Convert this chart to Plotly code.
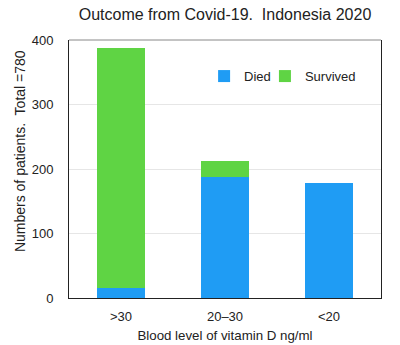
import plotly.graph_objects as go

# Vitamin D groups and patient counts
categories = [">30", "20–30", "<20"]
died = [16, 187, 179]
survived = [372, 26, 0]

BLUE = "#1F9CF4"
GREEN = "#5FD444"
FONT = "Liberation Sans, Arial, sans-serif"

fig = go.Figure()
fig.add_trace(go.Bar(name="Died", x=categories, y=died, marker_color=BLUE,
                     marker_line_width=0, width=0.46, legend="legend", showlegend=True))
fig.add_trace(go.Bar(name="Survived", x=categories, y=survived, marker_color=GREEN,
                     marker_line_width=0, width=0.46, legend="legend2", showlegend=True))

legend_style = dict(orientation="h", y=0.86, xanchor="left", yanchor="middle",
                    bgcolor="rgba(0,0,0,0)", font=dict(size=13), itemwidth=30)

fig.update_layout(
    barmode="stack",
    showlegend=True,
    width=400, height=345,
    margin=dict(l=69, r=19, t=40, b=47, autoexpand=False),
    paper_bgcolor="white", plot_bgcolor="white",
    font=dict(family=FONT, size=13, color="#222"),
    title=dict(text="Outcome from Covid-19.  Indonesia 2020", x=0.5625, xanchor="center",
               y=0.957, yanchor="middle", font=dict(size=16, color="#222")),
    legend=dict(x=0.433, **legend_style),
    legend2=dict(x=0.628, **legend_style),
)
fig.update_xaxes(showline=True, linecolor="#222", linewidth=1, ticks="", automargin=False,
                 tickfont=dict(size=13), ticklabelstandoff=6,
                 title=dict(text="Blood level of vitamin D ng/ml", font=dict(size=13.3), standoff=8))
fig.update_yaxes(range=[0, 400], tickvals=[0, 100, 200, 300, 400], showline=True,
                 linecolor="#222", linewidth=1, mirror=True, showgrid=True, automargin=False,
                 gridcolor="#E6E6E6", zeroline=False, ticks="", ticklabelstandoff=12,
                 tickfont=dict(size=13))
# Rotated y-axis title, placed a little above the plot's vertical centre
fig.add_annotation(text="Numbers of patients.  Total =780", textangle=-90,
                   xref="paper", yref="paper", x=-0.155, y=0.568, xanchor="center", yanchor="middle",
                   showarrow=False, font=dict(size=14, color="#222"))
fig.add_shape(type="line", xref="paper", yref="paper", x0=0, x1=1, y0=1, y1=1,
              line=dict(color="#888", width=1))

fig.write_html("out.html")
